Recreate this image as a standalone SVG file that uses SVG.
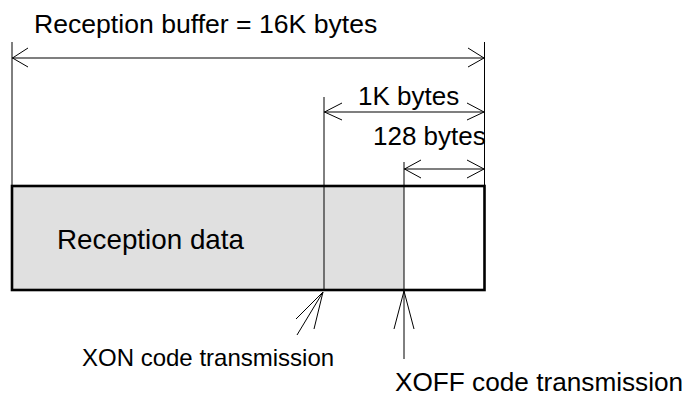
<svg xmlns="http://www.w3.org/2000/svg" width="689" height="396" viewBox="0 0 689 396">
<style>
.t{font-family:"Liberation Sans",Arial,sans-serif;fill:#000}
.ln{stroke:#000;stroke-width:1;fill:none}
.dim{stroke:#000;stroke-width:1.2;fill:none}
</style>
<rect width="689" height="396" fill="#fff"/>
<g id="buffer">
<rect x="12" y="186" width="392" height="104" fill="#e0e0e0"/>
<line class="ln" x1="324" y1="186" x2="324" y2="290"/>
<line class="ln" x1="404" y1="186" x2="404" y2="290"/>
<rect x="12" y="186" width="472.5" height="104" fill="none" stroke="#000" stroke-width="2.6"/>
<text class="t" x="57" y="249" font-size="27.8">Reception data</text>
</g>
<g id="connectors">
<line class="ln" x1="12" y1="42" x2="12" y2="186"/>
<line class="ln" x1="484.5" y1="42" x2="484.5" y2="186"/>
<line class="ln" x1="324" y1="97" x2="324" y2="186"/>
<line class="ln" x1="404" y1="162" x2="404" y2="186"/>
<line class="dim" x1="12" y1="58" x2="484" y2="58"/>
<polyline class="ln" points="28,48 12.5,58 28,67"/>
<polyline class="ln" points="468,48 484,58 468,67"/>
<line class="dim" x1="324" y1="112" x2="484" y2="112"/>
<polyline class="ln" points="342,103 324.5,112 342,120"/>
<polyline class="ln" points="467,103 484,112 467,120"/>
<line class="dim" x1="404" y1="169" x2="484" y2="169"/>
<polyline class="ln" points="421,160 404.5,169 421,178"/>
<polyline class="ln" points="467,160 484,169 467,178"/>
<line class="ln" x1="323" y1="292" x2="297" y2="335"/>
<line class="ln" x1="323" y1="292" x2="296" y2="319"/>
<line class="ln" x1="323" y1="292" x2="314" y2="329"/>
<line class="ln" x1="404" y1="291" x2="404" y2="359"/>
<line class="ln" x1="404" y1="291" x2="394" y2="329"/>
<line class="ln" x1="404" y1="291" x2="414" y2="329"/>
</g>
<g id="labels">
<text class="t" x="34" y="33" font-size="26.6">Reception buffer = 16K bytes</text>
<text class="t" x="358" y="105" font-size="26">1K bytes</text>
<text class="t" x="373" y="145" font-size="26">128 bytes</text>
<text class="t" x="82" y="366" font-size="24">XON code transmission</text>
<text class="t" x="395" y="391" font-size="26.2">XOFF code transmission</text>
</g>
</svg>
